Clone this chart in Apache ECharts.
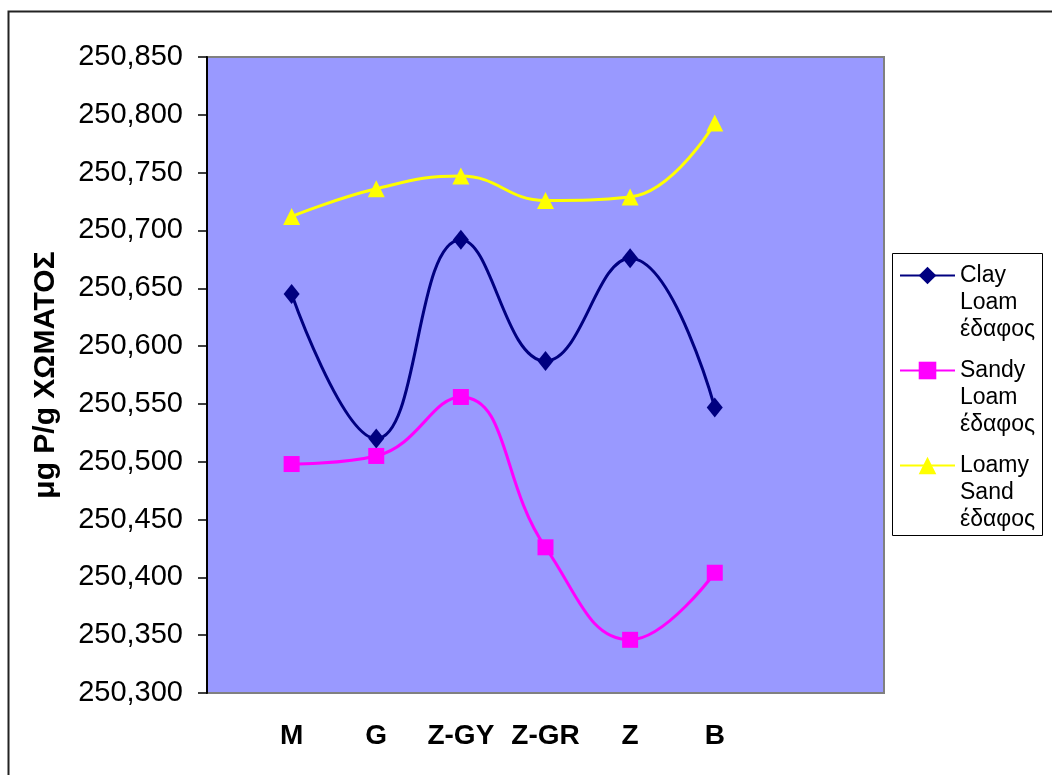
<!DOCTYPE html>
<html>
<head>
<meta charset="utf-8">
<script src="https://cdn.jsdelivr.net/npm/echarts@6/dist/echarts.min.js"></script>
<style>
  html, body { margin: 0; padding: 0; background: #fff; }
  #myChart { width: 1052px; height: 775px; }
</style>
</head>
<body>
<div id="myChart"></div>
<script>
// categories (first and last slots are empty, as in the original sheet)
var categories = ["", "M", "G", "Z-GY", "Z-GR", "Z", "B", "", ""];

var clayLoam = [null, 250.645, 250.520, 250.692, 250.587, 250.676, 250.547, null, null];
var sandyLoam = [null, 250.498, 250.505, 250.556, 250.426, 250.346, 250.404, null, null];
var loamySand = [null, 250.712, 250.736, 250.747, 250.726, 250.729, 250.793, null, null];

var seriesNames = ["Clay Loam έδαφος", "Sandy Loam έδαφος", "Loamy Sand έδαφος"];
var yMin = 250.3, yMax = 250.85, yStep = 0.05;
var yTitle = "μg P/g ΧΩΜΑΤΟΣ";

var myChart = echarts.init(document.getElementById("myChart"));

function lineSeries(name, data, color, symbol, size) {
  return {
    name: name,
    type: "line",
    data: data,
    smooth: 0.45,
    symbol: symbol,
    symbolSize: size,
    showAllSymbol: true,
    lineStyle: { color: color, width: 3 },
    itemStyle: { color: color },
    emphasis: { disabled: true }
  };
}

myChart.setOption({
  animation: false,
  textStyle: { fontFamily: "Arial, 'Liberation Sans', sans-serif" },
  graphic: [
    {
      type: "rect",
      shape: { x: 8.5, y: 11.5, width: 1200, height: 900 },
      style: { fill: null, stroke: "#222", lineWidth: 2 },
      silent: true
    },
    {
      type: "rect",
      shape: { x: 892.5, y: 253.5, width: 150, height: 282 },
      style: { fill: "#fff", stroke: "#000", lineWidth: 1 },
      silent: true,
      z: 0
    }
  ],
  grid: {
    left: 207,
    top: 57,
    right: 168,
    bottom: 82,
    show: true,
    backgroundColor: "#9999FF",
    borderColor: "#808080",
    borderWidth: 2
  },
  legend: {
    orient: "vertical",
    left: 899,
    top: 208,
    padding: 0,
    itemGap: -40,
    itemWidth: 55,
    itemHeight: 22,
    z: 5,
    data: seriesNames,
    formatter: function (name) {
      // two empty lines so the first word sits level with the icon
      return "\n\n" + name.split(" ").join("\n");
    },
    textStyle: { fontSize: 23, lineHeight: 27, color: "#000" }
  },
  xAxis: {
    type: "category",
    boundaryGap: false,
    data: categories,
    axisLine: { show: false },
    axisTick: { show: false },
    axisLabel: {
      interval: 0,
      margin: 29,
      fontSize: 28,
      fontWeight: "bold",
      color: "#000"
    },
    splitLine: { show: false }
  },
  yAxis: {
    type: "value",
    min: yMin,
    max: yMax,
    interval: yStep,
    name: yTitle,
    nameLocation: "middle",
    nameGap: 146,
    nameTextStyle: { fontSize: 30, fontWeight: "bold", color: "#000" },
    axisLine: { show: true, lineStyle: { color: "#000", width: 2 } },
    axisTick: { show: true, inside: false, length: 9, lineStyle: { color: "#000", width: 1.5 } },
    axisLabel: {
      margin: 24,
      fontSize: 29,
      color: "#000",
      formatter: function (v) { return v.toFixed(3).replace(".", ","); }
    },
    splitLine: { show: false }
  },
  series: [
    lineSeries(seriesNames[0], clayLoam, "#000080", "diamond", [16, 20]),
    lineSeries(seriesNames[1], sandyLoam, "#FF00FF", "rect", [16, 16]),
    lineSeries(seriesNames[2], loamySand, "#FFFF00", "triangle", [17, 17])
  ]
});
</script>
</body>
</html>
